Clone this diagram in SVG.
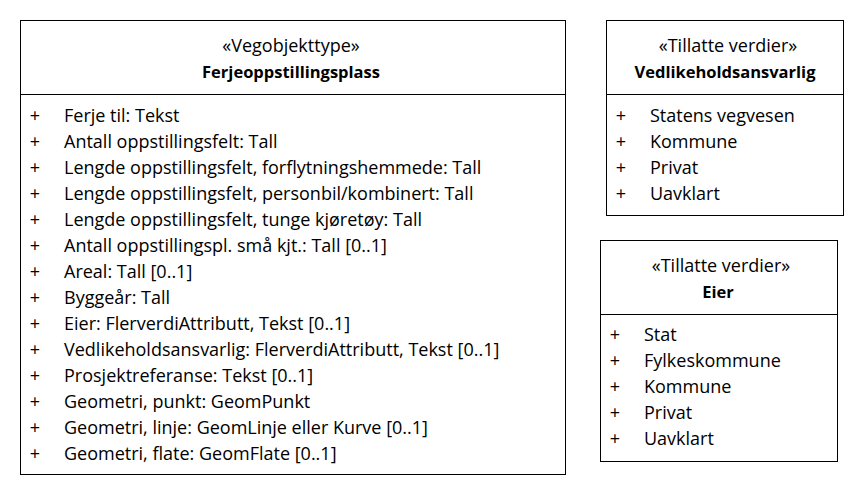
<svg xmlns="http://www.w3.org/2000/svg" width="864" height="496" viewBox="0 0 864 496">
  <style>
    .box { fill: #ffffff; stroke: #000000; stroke-width: 1; }
    .div { stroke: #000000; stroke-width: 1; }
    text { font-family: "Open Sans", "Liberation Sans", Arial, sans-serif; font-size: 18px; fill: #000000; }
    .title { font-weight: bold; font-size: 16.5px; text-anchor: middle; }
    .stereo { text-anchor: middle; }
    .vis { text-anchor: middle; }
  </style>
  <rect width="864" height="496" fill="#ffffff"/>

  <g id="Ferjeoppstillingsplass">
    <rect class="box" x="20.5" y="20.5" width="545" height="454"/>
    <line class="div" x1="20.5" y1="94.5" x2="565.5" y2="94.5"/>
    <text class="stereo" x="291" y="52">«Vegobjekttype»</text>
    <text class="title" x="291" y="78">Ferjeoppstillingsplass</text>
    <g>
      <text class="vis" x="35" y="122">+</text><text x="64" y="122">Ferje til: Tekst</text>
      <text class="vis" x="35" y="148">+</text><text x="64" y="148">Antall oppstillingsfelt: Tall</text>
      <text class="vis" x="35" y="174">+</text><text x="64" y="174">Lengde oppstillingsfelt, forflytningshemmede: Tall</text>
      <text class="vis" x="35" y="200">+</text><text x="64" y="200">Lengde oppstillingsfelt, personbil/kombinert: Tall</text>
      <text class="vis" x="35" y="226">+</text><text x="64" y="226">Lengde oppstillingsfelt, tunge kjøretøy: Tall</text>
      <text class="vis" x="35" y="252">+</text><text x="64" y="252">Antall oppstillingspl. små kjt.: Tall [0..1]</text>
      <text class="vis" x="35" y="278">+</text><text x="64" y="278">Areal: Tall [0..1]</text>
      <text class="vis" x="35" y="304">+</text><text x="64" y="304">Byggeår: Tall</text>
      <text class="vis" x="35" y="330">+</text><text x="64" y="330">Eier: FlerverdiAttributt, Tekst [0..1]</text>
      <text class="vis" x="35" y="356">+</text><text x="64" y="356">Vedlikeholdsansvarlig: FlerverdiAttributt, Tekst [0..1]</text>
      <text class="vis" x="35" y="382">+</text><text x="64" y="382">Prosjektreferanse: Tekst [0..1]</text>
      <text class="vis" x="35" y="408">+</text><text x="64" y="408">Geometri, punkt: GeomPunkt</text>
      <text class="vis" x="35" y="434">+</text><text x="64" y="434">Geometri, linje: GeomLinje eller Kurve [0..1]</text>
      <text class="vis" x="35" y="460">+</text><text x="64" y="460">Geometri, flate: GeomFlate [0..1]</text>
    </g>
  </g>

  <g id="Vedlikeholdsansvarlig">
    <rect class="box" x="606.5" y="20.5" width="237" height="195"/>
    <line class="div" x1="606.5" y1="94.5" x2="843.5" y2="94.5"/>
    <text class="stereo" x="728" y="52">«Tillatte verdier»</text>
    <text class="title" x="725" y="78">Vedlikeholdsansvarlig</text>
    <text class="vis" x="621" y="122">+</text><text x="650" y="122">Statens vegvesen</text>
    <text class="vis" x="621" y="148">+</text><text x="650" y="148">Kommune</text>
    <text class="vis" x="621" y="174">+</text><text x="650" y="174">Privat</text>
    <text class="vis" x="621" y="200">+</text><text x="650" y="200">Uavklart</text>
  </g>

  <g id="Eier">
    <rect class="box" x="600.5" y="240.5" width="237" height="221"/>
    <line class="div" x1="600.5" y1="314.5" x2="837.5" y2="314.5"/>
    <text class="stereo" x="721" y="272">«Tillatte verdier»</text>
    <text class="title" x="718" y="298">Eier</text>
    <text class="vis" x="615" y="341">+</text><text x="644" y="341">Stat</text>
    <text class="vis" x="615" y="367">+</text><text x="644" y="367">Fylkeskommune</text>
    <text class="vis" x="615" y="393">+</text><text x="644" y="393">Kommune</text>
    <text class="vis" x="615" y="419">+</text><text x="644" y="419">Privat</text>
    <text class="vis" x="615" y="445">+</text><text x="644" y="445">Uavklart</text>
  </g>

  <g id="connectors"></g>
</svg>
